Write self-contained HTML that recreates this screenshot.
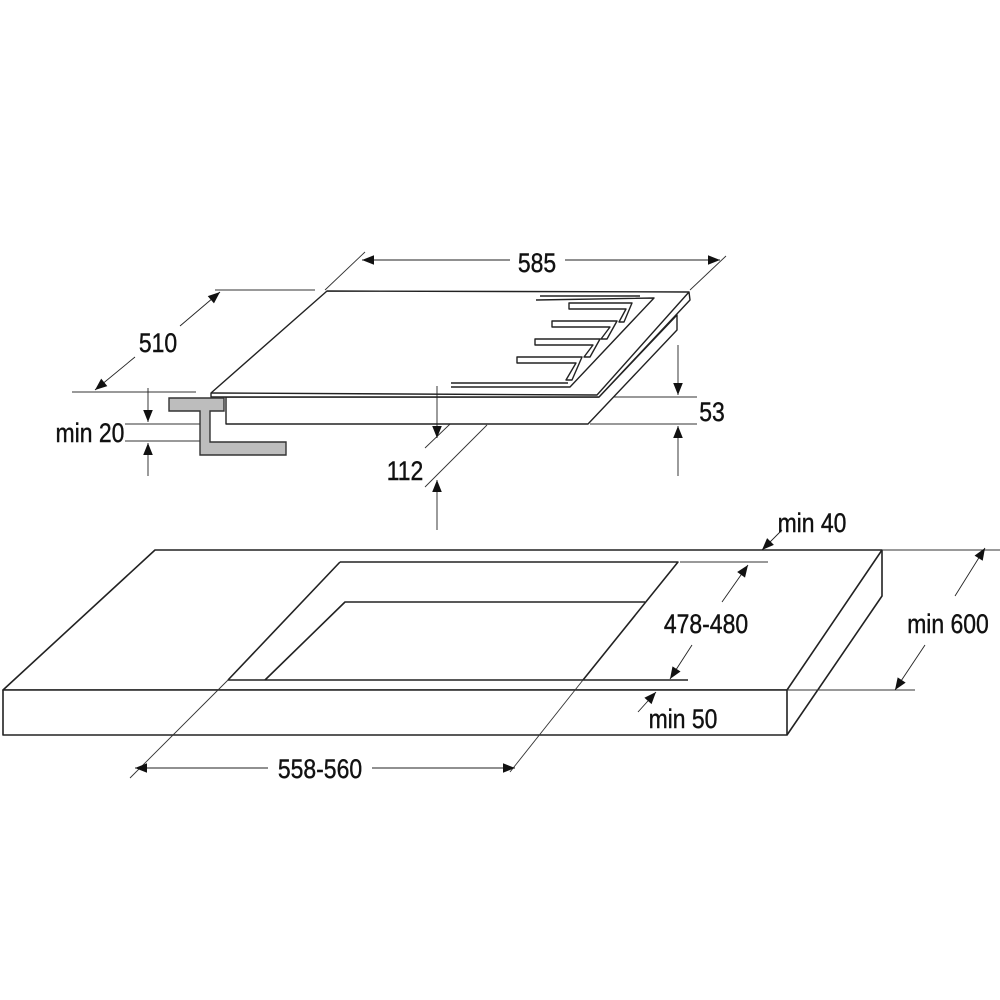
<!DOCTYPE html>
<html><head><meta charset="utf-8"><style>
html,body{margin:0;padding:0;background:#fff;}
svg{display:block;}
text{font-family:"Liberation Sans Narrow","Liberation Sans",sans-serif;font-size:27px;fill:#111;stroke:#111;stroke-width:0.4;}
</style></head><body>
<svg width="1000" height="1000" viewBox="0 0 1000 1000" xmlns="http://www.w3.org/2000/svg">
<defs>
<marker id="b" viewBox="0 0 10 10" refX="10" refY="5" markerWidth="30" markerHeight="12" markerUnits="userSpaceOnUse" orient="auto-start-reverse">
<path d="M0,1 L10,5 L0,9 z" fill="#111"/>
</marker>
</defs>
<g fill="none" stroke="#222" stroke-width="1.6" stroke-linejoin="round">
<polygon points="155,550 882,550 787,690 3,690" fill="#fff"/>
<rect x="3" y="690" width="784" height="45" fill="#fff"/>
<polyline points="882,550 882,596 787,735"/>
<polyline points="340,562 678,562 583,680"/>
<line x1="340" y1="562" x2="228" y2="680"/>
<line x1="228" y1="680" x2="688" y2="680"/>
<polyline points="265,680 345,602 645,602"/>
</g>
<g fill="none" stroke="#333" stroke-width="0.9">
<line x1="228" y1="680" x2="130" y2="778"/>
<line x1="583" y1="680" x2="510" y2="772"/>
<line x1="680" y1="562" x2="768" y2="562"/>
<line x1="882" y1="550" x2="1000" y2="550"/>
<line x1="787" y1="690" x2="915" y2="690"/>
<line x1="325" y1="290" x2="365" y2="252"/>
<line x1="690" y1="290" x2="726" y2="256"/>
<line x1="215" y1="290" x2="315" y2="290"/>
<line x1="72" y1="392" x2="196" y2="392"/>
<line x1="125" y1="424" x2="205" y2="424"/>
<line x1="125" y1="441" x2="200" y2="441"/>
<line x1="600" y1="397" x2="697" y2="397"/>
<line x1="590" y1="424" x2="697" y2="424"/>
<line x1="517" y1="360" x2="425" y2="448"/>
<line x1="487" y1="425" x2="425" y2="487"/>
</g>
<g fill="#fff" stroke="#222" stroke-width="1.4" stroke-linejoin="round">
<polygon points="226,397 599,397 677,315 677,330 588,424 226,424"/>
<polygon points="327,291 689,292 690,300 599,397 211,397 211,393"/>
<polyline points="211,393 597,395 689,292" fill="none"/>
<polyline points="536,300 654,298 570,387 451,387" fill="none"/>
<polyline points="451,383 568,383" fill="none"/>
<polyline points="540,296 640,296" fill="none"/>
<polygon points="569,303 632,303 624,322 619,322 626,309 569,309"/>
<polygon points="552,321 617,321 607,339 601,339 610,327 552,327"/>
<polygon points="535,339 600,339 590,357 584,357 593,345 535,345"/>
<polygon points="517,357 582,357 572,380 566,380 576,363 517,363"/>
</g>
<polygon points="169,398 224,398 224,411 210,411 210,442 286,442 286,455 200,455 200,411 169,411" fill="#bdbdbd" stroke="#333" stroke-width="1.4"/>
<g stroke="#222" stroke-width="0.9" fill="none">
<line x1="362" y1="260" x2="510" y2="260" marker-start="url(#b)"/>
<line x1="565" y1="260" x2="720" y2="260" marker-end="url(#b)"/>
<line x1="95" y1="390" x2="135" y2="357" marker-start="url(#b)"/>
<line x1="180" y1="326" x2="220" y2="292" marker-end="url(#b)"/>
<line x1="148" y1="388" x2="148" y2="422" marker-end="url(#b)"/>
<line x1="148" y1="476" x2="148" y2="443" marker-end="url(#b)"/>
<line x1="678" y1="345" x2="678" y2="395" marker-end="url(#b)"/>
<line x1="678" y1="476" x2="678" y2="426" marker-end="url(#b)"/>
<line x1="437" y1="386" x2="437" y2="438" marker-end="url(#b)"/>
<line x1="437" y1="530" x2="437" y2="480" marker-end="url(#b)"/>
<line x1="135" y1="768" x2="268" y2="768" marker-start="url(#b)"/>
<line x1="372" y1="768" x2="515" y2="768" marker-end="url(#b)"/>
<line x1="748" y1="565" x2="722" y2="602" marker-start="url(#b)"/>
<line x1="692" y1="645" x2="670" y2="679" marker-end="url(#b)"/>
<line x1="985" y1="548" x2="955" y2="596" marker-start="url(#b)"/>
<line x1="925" y1="645" x2="895" y2="690" marker-end="url(#b)"/>
<line x1="782" y1="530" x2="762" y2="550" marker-end="url(#b)"/>
<line x1="638" y1="712" x2="656" y2="692" marker-end="url(#b)"/>
</g>
<g>
<text x="537" y="272" text-anchor="middle" transform="translate(537 0) scale(0.85 1) translate(-537 0)">585</text>
<text x="158" y="352" text-anchor="middle" transform="translate(158 0) scale(0.85 1) translate(-158 0)">510</text>
<text x="90" y="442" text-anchor="middle" transform="translate(90 0) scale(0.85 1) translate(-90 0)">min 20</text>
<text x="712" y="421" text-anchor="middle" transform="translate(712 0) scale(0.85 1) translate(-712 0)">53</text>
<text x="405" y="480" text-anchor="middle" transform="translate(405 0) scale(0.85 1) translate(-405 0)">112</text>
<text x="812" y="532" text-anchor="middle" transform="translate(812 0) scale(0.85 1) translate(-812 0)">min 40</text>
<text x="706" y="633" text-anchor="middle" transform="translate(706 0) scale(0.85 1) translate(-706 0)">478-480</text>
<text x="948" y="633" text-anchor="middle" transform="translate(948 0) scale(0.85 1) translate(-948 0)">min 600</text>
<text x="683" y="728" text-anchor="middle" transform="translate(683 0) scale(0.85 1) translate(-683 0)">min 50</text>
<text x="320" y="778" text-anchor="middle" transform="translate(320 0) scale(0.85 1) translate(-320 0)">558-560</text>
</g>
</svg>
</body></html>
